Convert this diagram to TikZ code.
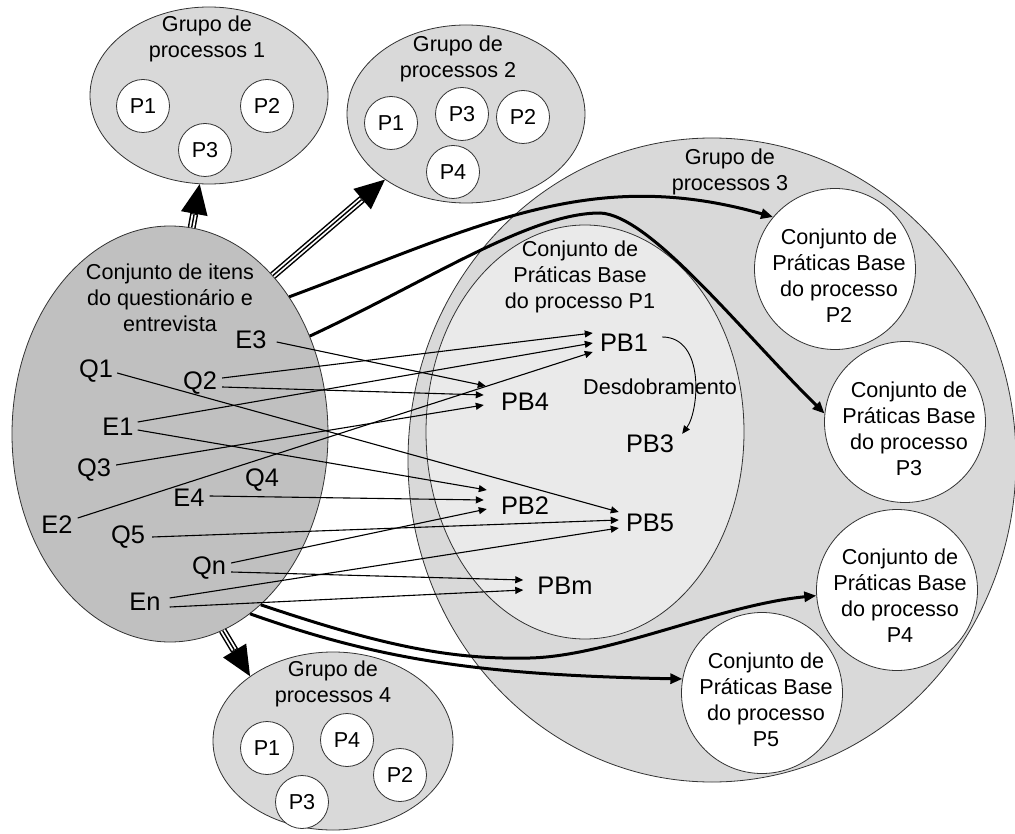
\documentclass[tikz,border=0pt]{standalone}
\usepackage{fontspec}
\setmainfont{Liberation Sans}
\usetikzlibrary{arrows.meta,shapes.geometric}
\definecolor{grpfill}{HTML}{D9D9D9}
\definecolor{itfill}{HTML}{C0C0C0}
\definecolor{inrfill}{HTML}{EAEAEA}
\definecolor{edgec}{HTML}{333333}
\newcommand\fsmall{\fontsize{21.6}{26}\selectfont}
\newcommand\fbig{\fontsize{25.4}{30}\selectfont}
\begin{document}
\begin{tikzpicture}[x=1pt,y=-1pt,
  grp/.style={ellipse, draw=edgec, line width=0.8pt, fill=grpfill, inner sep=0pt},
  proc/.style={circle, draw=edgec, line width=0.8pt, fill=white, minimum size=53pt, inner sep=0pt, font=\fsmall},
  bigc/.style={circle, draw=edgec, line width=0.8pt, fill=white, minimum size=161pt, inner sep=0pt},
  txt/.style={align=center, font=\fsmall, inner sep=0pt},
  lbl/.style={font=\fbig, inner sep=0pt},
  thinarr/.style={line width=1.1pt, -{Triangle[length=8pt,width=7pt]}},
  thickarr/.style={line width=3pt, -{Triangle[length=12pt,width=10pt]}},
  tripout/.style={line width=8pt, -{Triangle[length=30pt,width=27pt,line width=0pt]}},
  tripwhite/.style={line width=5pt, white, shorten >=31pt},
  tripmid/.style={line width=1.4pt, black, shorten >=31pt}
]
\fill[white] (0,0) rectangle (1015,834);
\useasboundingbox (0,0) rectangle (1015,834);

% groups
\node[grp, minimum width=238pt, minimum height=177pt] (g1) at (209,95.5) {};
\node[txt] (g1t) at (207,38.5) {Grupo de\\processos 1};
\node[proc] (g1p1) at (143,106) {P1};
\node[proc] (g1p2) at (267,106) {P2};
\node[proc] (g1p3) at (205,150) {P3};

\node[grp, minimum width=238pt, minimum height=178pt] (g2) at (466,114) {};
\node[txt] (g2t) at (458,58.5) {Grupo de\\processos 2};
\node[proc] (g2p1) at (391,123) {P1};
\node[proc] (g2p3) at (462,114) {P3};
\node[proc] (g2p2) at (523,117) {P2};
\node[proc] (g2p4) at (453,172) {P4};

\node[grp, minimum width=240pt, minimum height=178pt] (g4) at (333,741) {};
\node[txt] (g4t) at (333,684) {Grupo de\\processos 4};
\node[proc] (g4p1) at (267,748) {P1};
\node[proc] (g4p4) at (347,740) {P4};
\node[proc] (g4p2) at (400,775) {P2};
\node[proc] (g4p3) at (302,802) {P3};

\node[grp, minimum width=608pt, minimum height=644pt] (g3) at (712,460) {};
\node[txt] (g3t) at (730,171.5) {Grupo de\\processos 3};
\node[grp, fill=inrfill, minimum width=318pt, minimum height=414pt] (inr) at (585,432) {};
\node[txt] (inrt) at (580,277) {Conjunto de\\Práticas Base\\do processo P1};

\node[grp, fill=itfill, minimum width=316pt, minimum height=416pt] (L) at (170,434) {};
\node[txt] (Lt) at (170,297.5) {Conjunto de itens\\do questionário e\\entrevista};

% big circles
\node[bigc] (c2) at (835,269) {};
\node[txt] (c2t) at (839,275.5) {Conjunto de\\Práticas Base\\do processo\\P2};
\node[bigc] (c3) at (905,422) {};
\node[txt] (c3t) at (909,428.5) {Conjunto de\\Práticas Base\\do processo\\P3};
\node[bigc] (c4) at (897,590) {};
\node[txt] (c4t) at (900,595.5) {Conjunto de\\Práticas Base\\do processo\\P4};
\node[bigc] (c5) at (762,693) {};
\node[txt] (c5t) at (766,699.5) {Conjunto de\\Práticas Base\\do processo\\P5};

% labels
\node[lbl] (E3) at (251,340) {E3};
\node[lbl] (Q1) at (96,371) {Q1};
\node[lbl] (Q2) at (200,383) {Q2};
\node[lbl] (E1) at (118,427) {E1};
\node[lbl] (Q3) at (94,470) {Q3};
\node[lbl] (Q4) at (262,480) {Q4};
\node[lbl] (E4) at (189,498) {E4};
\node[lbl] (E2) at (57,525) {E2};
\node[lbl] (Q5) at (128,537) {Q5};
\node[lbl] (Qn) at (209,568) {Qn};
\node[lbl] (En) at (145,602) {En};

\node[lbl] (PB1) at (624,343) {PB1};
\node[lbl] (PB4) at (525,402) {PB4};
\node[lbl] (PB3) at (650,444) {PB3};
\node[lbl] (PB2) at (525,506) {PB2};
\node[lbl] (PB5) at (650,523) {PB5};
\node[lbl] (PBm) at (565,586) {PBm};
\node[txt] (des) at (660,387) {Desdobramento};

% thick curves
\coordinate (m2) at (600,213);
\coordinate (m3) at (530,658);
\draw[thickarr] (L.49) .. controls (480,226) and (590,165) .. (c2.140);
\draw[thickarr] (L.35) .. controls (430,280) and (530,213) .. (m2) .. controls (650,215) and (740,330) .. (c3.174);
\draw[thickarr] (L.-62) .. controls (380,645) and (450,660) .. (m3) .. controls (610,656) and (720,605) .. (c4.184);
\draw[thickarr] (L.-66) .. controls (380,660) and (480,675) .. (c5.170);

% triple arrows
\foreach \a/\b in {L.84/g1.-96, L.57/g2.219, L.-75/g4.142} {
  \draw[tripout] (\a) -- (\b);
  \draw[tripwhite] (\a) -- (\b);
  \draw[tripmid] (\a) -- (\b);
}

% thin arrows
\draw[thinarr] ([shift={(10,2)}]E3.east) -- ([shift={(-15,-16)}]PB4.west);
\draw[thinarr] ([shift={(5,-5)}]Q2.east) -- ([shift={(-7,-10)}]PB1.west);
\draw[thinarr] ([shift={(5,4)}]Q2.east) -- ([shift={(-17,-7)}]PB4.west);
\draw[thinarr] ([shift={(4,-5)}]E1.east) -- ([shift={(-7,0)}]PB1.west);
\draw[thinarr] ([shift={(4,3)}]E1.east) -- ([shift={(-14,-16)}]PB2.west);
\draw[thinarr] ([shift={(4,2)}]Q1.east) -- ([shift={(-7,-11)}]PB5.west);
\draw[thinarr] ([shift={(5,-5)}]Q3.east) -- ([shift={(-17,3)}]PB4.west);
\draw[thinarr] ([shift={(5,-7)}]E2.east) -- ([shift={(-7,9)}]PB1.west);
\draw[thinarr] ([shift={(5,-2)}]E4.east) -- ([shift={(-17,-6)}]PB2.west);
\draw[thinarr] ([shift={(7,0)}]Q5.east) -- ([shift={(-7,-3)}]PB5.west);
\draw[thinarr] ([shift={(5,-5)}]Qn.east) -- ([shift={(-14,3)}]PB2.west);
\draw[thinarr] ([shift={(5,4)}]Qn.east) -- ([shift={(-14,-6)}]PBm.west);
\draw[thinarr] ([shift={(9,-4)}]En.east) -- ([shift={(-7,5)}]PB5.west);
\draw[thinarr] ([shift={(9,5)}]En.east) -- ([shift={(-14,4)}]PBm.west);

% Desdobramento
\draw[line width=0.9pt, -{Triangle[length=8pt,width=7pt]}] ([shift={(14,-6)}]PB1.east) .. controls +(43,0) and +(17,-23) .. ([shift={(8,-1)}]PB3.north east);
\end{tikzpicture}
\end{document}
